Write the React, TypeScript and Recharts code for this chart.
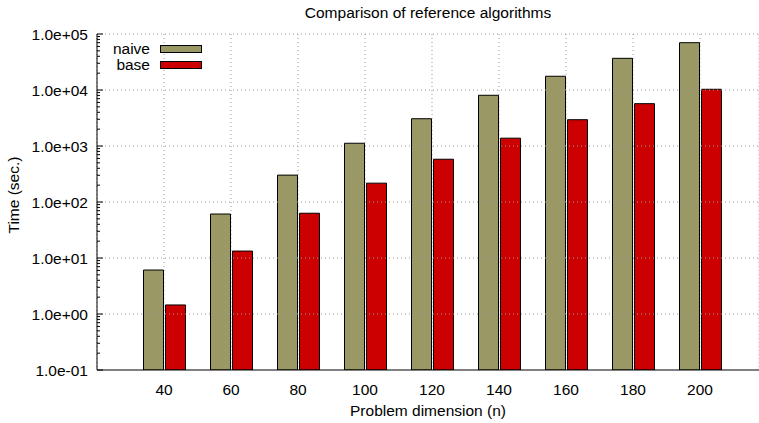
import { BarChart, Bar, XAxis, YAxis, CartesianGrid, Legend, ReferenceLine } from "recharts"

const dimensions = ["40", "60", "80", "100", "120", "140", "160", "180", "200"]
const naiveTimes = [6.1, 61, 302, 1120, 3070, 8050, 17600, 36800, 70000]
const baseTimes = [1.45, 13.3, 63, 217, 580, 1380, 2950, 5700, 10300]
const seriesNames = ["naive", "base"]
const majorTicks = [0.1, 1, 10, 100, 1000, 10000, 100000]

const minorTicks = majorTicks.slice(0, -1).flatMap((d) => [2, 3, 4, 5, 6, 7, 8, 9].map((m) => m * d))
const allTicks = [...majorTicks, ...minorTicks].sort((a, b) => a - b)

const data = dimensions.map((n, i) => ({ n, naive: naiveTimes[i], base: baseTimes[i] }))

const FONT = "'Liberation Sans', Arial, Helvetica, sans-serif"
const OLIVE = "#9a9966"
const RED = "#cc0000"

function sci(v: number) {
  const [m, e] = v.toExponential(1).split("e")
  const exp = Number(e)
  return `${m}e${exp < 0 ? "-" : "+"}${String(Math.abs(exp)).padStart(2, "0")}`
}

function isMajor(v: number) {
  return majorTicks.some((t) => Math.abs(t - v) / t < 1e-6)
}

function YTick(props: any) {
  const { x, y, payload } = props
  const v = payload.value
  const major = isMajor(v)
  const axisX = x + 9
  return (
    <g>
      <line x1={axisX} x2={axisX + (major ? 6 : 3)} y1={y} y2={y} stroke="#000" strokeWidth={1} />
      {major && (
        <text x={x} y={y} dy="0.355em" textAnchor="end" fontSize={15.5} fontFamily={FONT} fill="#000">
          {sci(v)}
        </text>
      )}
    </g>
  )
}

function LegendBox({ payload }: any) {
  const items = [...(payload || [])].sort(
    (a: any, b: any) => seriesNames.indexOf(a.value) - seriesNames.indexOf(b.value)
  )
  return (
    <div style={{ fontFamily: FONT, fontSize: 15.5 }}>
      {items.map((p: any) => (
        <div key={p.value} style={{ display: "flex", alignItems: "center", height: 16 }}>
          <span style={{ width: 50, textAlign: "right", color: "#000" }}>{p.value}</span>
          <span
            style={{
              marginLeft: 10,
              width: 42,
              height: 8,
              boxSizing: "border-box",
              border: "1px solid #000",
              background: p.color,
            }}
          />
        </div>
      ))}
    </div>
  )
}

export default function App() {
  return (
    <div style={{ position: "absolute", left: 0, top: 0, width: 759, height: 423, background: "#fff" }}>
      <BarChart
        width={759}
        height={423}
        data={data}
        margin={{ top: 34, right: 0, bottom: 0, left: 0 }}
        barSize={20}
        barGap={2}
      >
        <text x={428} y={18} textAnchor="middle" fontSize={15.5} fontFamily={FONT} fill="#000">
          Comparison of reference algorithms
        </text>
        <CartesianGrid horizontal={false} stroke="#999" strokeDasharray="1 3" />
        {majorTicks.slice(1).map((t) => (
          <ReferenceLine key={t} y={t} stroke="#999" strokeDasharray="1 3" />
        ))}
        <XAxis
          dataKey="n"
          height={53}
          padding={{ left: 33.5, right: 25.5 }}
          tickLine={false}
          tickSize={0}
          tickMargin={14}
          stroke="#000"
          tick={{ fontSize: 15.5, fontFamily: FONT, fill: "#000" }}
          label={{
            value: "Problem dimension (n)",
            position: "insideBottom",
            offset: 7,
            style: { fontSize: 15.5, fontFamily: FONT, fill: "#000" },
          }}
        />
        <YAxis
          scale="log"
          domain={[0.1, 100000]}
          allowDataOverflow
          ticks={allTicks}
          interval={0}
          width={97}
          tickLine={false}
          tickSize={0}
          tickMargin={9}
          stroke="#000"
          tick={<YTick />}
          label={{
            content: () => (
              <text
                x={19}
                y={195}
                transform="rotate(-90 19 195)"
                textAnchor="middle"
                fontSize={15.5}
                fontFamily={FONT}
                fill="#000"
              >
                Time (sec.)
              </text>
            ),
          }}
        />
        <Legend
          layout="vertical"
          align="center"
          verticalAlign="middle"
          content={<LegendBox />}
          wrapperStyle={{ top: 41, left: 100, width: 110 }}
        />
        <Bar dataKey="naive" name="naive" fill={OLIVE} stroke="#000" strokeWidth={1} isAnimationActive={false} />
        <Bar dataKey="base" name="base" fill={RED} stroke="#000" strokeWidth={1} isAnimationActive={false} />
      </BarChart>
    </div>
  )
}
